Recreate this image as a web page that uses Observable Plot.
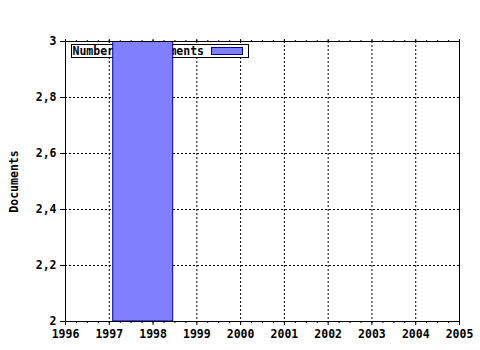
<!DOCTYPE html>
<html>
<head>
<meta charset="utf-8">
<script src="https://cdn.jsdelivr.net/npm/d3@7"></script>
<script src="https://cdn.jsdelivr.net/npm/@observablehq/plot@0.6"></script>
<style>
  html, body { margin: 0; padding: 0; background: #fff; }
  svg { display: block; }
</style>
</head>
<body>
<div id="chart"></div>
<script>
// Data
const barStart = [1997.09];
const barEnd = [1998.46];
const barValue = [3];
const seriesName = "Number of documents";
const yearTicks = [1996, 1997, 1998, 1999, 2000, 2001, 2002, 2003, 2004, 2005];
const gridYears = [1997, 1998, 1999, 2000, 2001, 2002, 2003, 2004];
const yTicks = [2, 2.2, 2.4, 2.6, 2.8, 3];
const gridYValues = [2.2, 2.4, 2.6, 2.8];
const minorX = d3.range(1996, 2005.001, 0.25);

const bars = barStart.map((s, i) => ({start: s, end: barEnd[i], value: barValue[i]}));

const FONT = "DejaVu Sans Mono, monospace";
const fmt = d => String(+d.toFixed(1)).replace(".", ",");

function legendMark(index, scales, values, dimensions) {
  const ns = "http://www.w3.org/2000/svg";
  const g = document.createElementNS(ns, "g");
  const x0 = dimensions.marginLeft + 6.5, y0 = dimensions.marginTop + 3.5;
  const box = document.createElementNS(ns, "rect");
  box.setAttribute("x", x0); box.setAttribute("y", y0);
  box.setAttribute("width", 177); box.setAttribute("height", 13);
  box.setAttribute("fill", "white"); box.setAttribute("stroke", "black");
  g.appendChild(box);
  const t = document.createElementNS(ns, "text");
  t.setAttribute("x", x0 + 1); t.setAttribute("y", y0 + 10.5);
  t.setAttribute("text-anchor", "start");
  t.setAttribute("font-family", FONT); t.setAttribute("font-weight", "bold");
  t.setAttribute("font-size", "11.5px");
  t.textContent = seriesName;
  g.appendChild(t);
  const sw = document.createElementNS(ns, "rect");
  sw.setAttribute("x", x0 + 140); sw.setAttribute("y", y0 + 3);
  sw.setAttribute("width", 31); sw.setAttribute("height", 7);
  sw.setAttribute("fill", "#8080ff"); sw.setAttribute("stroke", "#0000a0");
  g.appendChild(sw);
  return g;
}

const chart = Plot.plot({
  width: 480,
  height: 350,
  marginLeft: 65,
  marginRight: 21,
  marginTop: 41,
  marginBottom: 29,
  style: {fontFamily: FONT, fontSize: "11px", fontWeight: "bold", color: "black", background: "white"},
  x: {domain: [1996, 2005]},
  y: {domain: [2, 3]},
  marks: [
    Plot.gridX(gridYears, {stroke: "black", strokeOpacity: 1, strokeDasharray: "2,2"}),
    Plot.gridY(gridYValues, {stroke: "black", strokeOpacity: 1, strokeDasharray: "2,2"}),
    legendMark,
    Plot.rectY(bars, {x1: "start", x2: "end", y1: 2, y2: "value", fill: "#8080ff", stroke: "#0000a0", strokeWidth: 1, clip: true}),
    Plot.frame({stroke: "black"}),
    Plot.axisX(minorX, {tickSize: 2, text: null, label: null}),
    Plot.axisX(minorX, {anchor: "top", tickSize: 2, text: null, label: null}),
    Plot.axisX(yearTicks, {tickSize: 4, tickPadding: 4, tickFormat: d => String(d), label: null, fontSize: 11.5}),
    Plot.axisX(yearTicks, {anchor: "top", tickSize: 3, text: null, label: null}),
    Plot.axisY(yTicks, {tickSize: 5, tickPadding: 4, tickFormat: fmt, label: "Documents", labelAnchor: "center", labelArrow: "none", labelOffset: 56, fontSize: 11.5})
  ]
});
document.getElementById("chart").appendChild(chart);
</script>
</body>
</html>
